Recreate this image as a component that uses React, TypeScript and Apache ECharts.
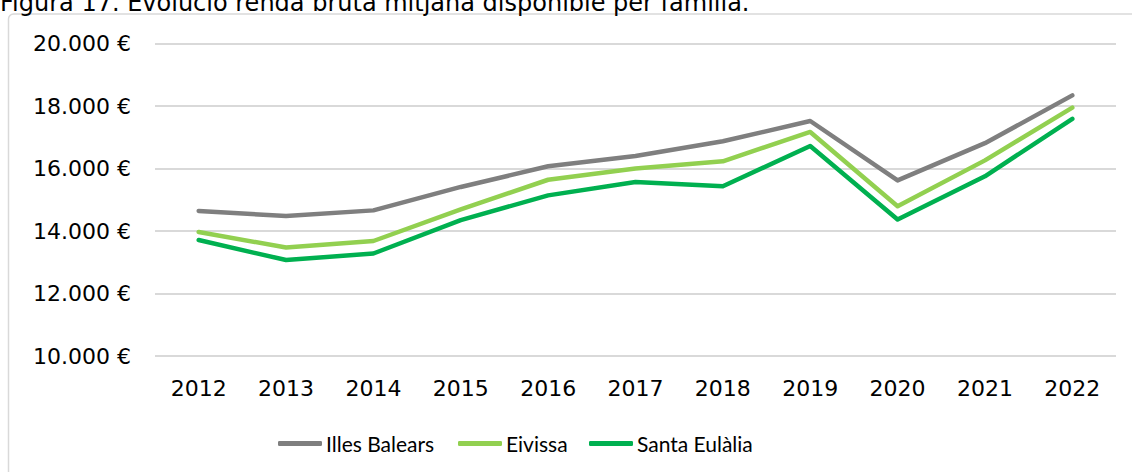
import React, { useEffect, useRef } from "react";
import * as echarts from "echarts";

const years = ["2012", "2013", "2014", "2015", "2016", "2017", "2018", "2019", "2020", "2021", "2022"];
const illesBalears = [14640, 14480, 14660, 15410, 16070, 16400, 16870, 17520, 15620, 16810, 18340];
const eivissa = [13970, 13470, 13680, 14690, 15640, 16000, 16230, 17170, 14790, 16260, 17950];
const santaEulalia = [13710, 13070, 13280, 14350, 15140, 15570, 15430, 16720, 14370, 15750, 17590];
const seriesNames = ["Illes Balears", "Eivissa", "Santa Eulàlia"];
const seriesColors = ["#7f7f7f", "#92d050", "#00b050"];
const legendLefts = [278, 458, 589];
const titleText = "Figura 17. Evolució renda bruta mitjana disponible per família.";

const fmt = (v: number) =>
  Math.round(v).toString().replace(/\B(?=(\d{3})+(?!\d))/g, ".") + " €";

export default function App() {
  const ref = useRef<HTMLDivElement>(null);
  useEffect(() => {
    if (!ref.current) return;
    const chart = echarts.init(ref.current, null, { renderer: "svg" });
    const data = [illesBalears, eivissa, santaEulalia];
    chart.setOption({
      animation: false,
      backgroundColor: "#ffffff",
      graphic: [
        {
          type: "rect",
          z: -1,
          shape: { x: 8.5, y: 14, width: 1140, height: 470, r: 5 },
          style: { fill: "none", stroke: "#d9d9d9", lineWidth: 1.5 },
        },
        {
          type: "text",
          x: 0,
          y: 15,
          style: {
            text: titleText,
            fontFamily: "DejaVu Sans",
            fontSize: 24,
            fill: "#000",
            verticalAlign: "bottom",
            align: "left",
          },
        },
      ],
      grid: { left: 155, right: 16, top: 43.5, bottom: 116, containLabel: false },
      legend: seriesNames.map((name, i) => ({
        left: legendLefts[i],
        top: 433,
        padding: 0,
        itemWidth: 44,
        itemHeight: 5,
        icon: "roundRect",
        data: [name],
        textStyle: { fontFamily: "Lato", fontSize: 21, color: "#000", padding: [0, 0, 0, -1] },
      })),
      xAxis: {
        type: "category",
        data: years,
        boundaryGap: true,
        axisLine: { show: false },
        axisTick: { show: false },
        axisLabel: { fontFamily: "DejaVu Sans", fontSize: 22, color: "#000", margin: 21 },
      },
      yAxis: {
        type: "value",
        min: 10000,
        max: 20000,
        interval: 2000,
        axisLine: { show: false },
        axisTick: { show: false },
        splitLine: { lineStyle: { color: "#d9d9d9", width: 2 } },
        axisLabel: {
          fontFamily: "DejaVu Sans",
          fontSize: 22,
          color: "#000",
          margin: 24,
          formatter: (v: number) => fmt(v),
        },
      },
      series: seriesNames.map((name, i) => ({
        name,
        type: "line",
        data: data[i],
        symbol: "none",
        showSymbol: false,
        itemStyle: { color: seriesColors[i] },
        lineStyle: { color: seriesColors[i], width: 4.5, cap: "round", join: "round" },
        z: 10 - i,
      })),
    });
    return () => chart.dispose();
  }, []);
  return (
    <div
      ref={ref}
      style={{ position: "absolute", left: 0, top: 0, width: 1132, height: 472 }}
    />
  );
}
